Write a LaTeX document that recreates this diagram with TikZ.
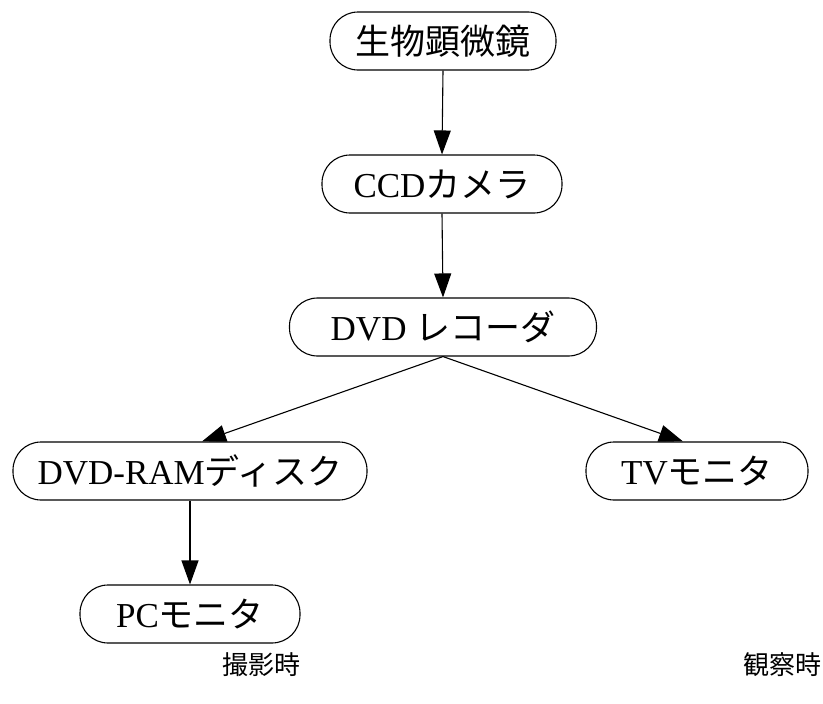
\documentclass[tikz,border=0pt]{standalone}
\usepackage{fontspec}
\setmainfont{Liberation Serif}
\newfontfamily\jpfont{Noto Sans CJK JP}
\usetikzlibrary{arrows.meta,calc}
\newcommand{\jp}[1]{{\jpfont #1}}
\begin{document}
\begin{tikzpicture}[x=1pt,y=-1pt,
  box/.style={draw,line width=1.1pt,rounded corners=28pt,inner sep=0pt,
    minimum height=58pt,font=\fontsize{35}{37}\selectfont},
  arr/.style={line width=1.1pt,-{Triangle[length=24pt,width=17pt]}},
  lbl/.style={font=\fontsize{26}{28}\selectfont\jpfont,inner sep=0pt}]
\useasboundingbox (0,0) rectangle (823,704);
\node[box,minimum width=226pt] (mic) at (443,41) {\jp{生物顕微鏡}};
\node[box,minimum width=240pt] (ccd) at (442,184) {CCD\jp{カメラ}};
\node[box,minimum width=307pt] (rec) at (443,327) {DVD \jp{レコーダ}};
\node[box,minimum width=354pt] (ram) at (190,471) {DVD-RAM\jp{ディスク}};
\node[box,minimum width=222pt] (tv) at (697,471) {TV\jp{モニタ}};
\node[box,minimum width=220pt] (pc) at (190,614) {PC\jp{モニタ}};
\node[lbl] (l1) at (261,665) {撮影時};
\node[lbl] (l2) at (782,665) {観察時};
\draw[arr] (mic.south) -- (ccd.north);
\draw[arr] (ccd.south) -- (rec.north);
\draw[arr] (rec.south) -- ($(ram.north)+(12,0)$);
\draw[arr] (rec.south) -- ($(tv.north)+(-14,0)$);
\draw[arr] (ram.south) -- (pc.north);
\end{tikzpicture}
\end{document}
